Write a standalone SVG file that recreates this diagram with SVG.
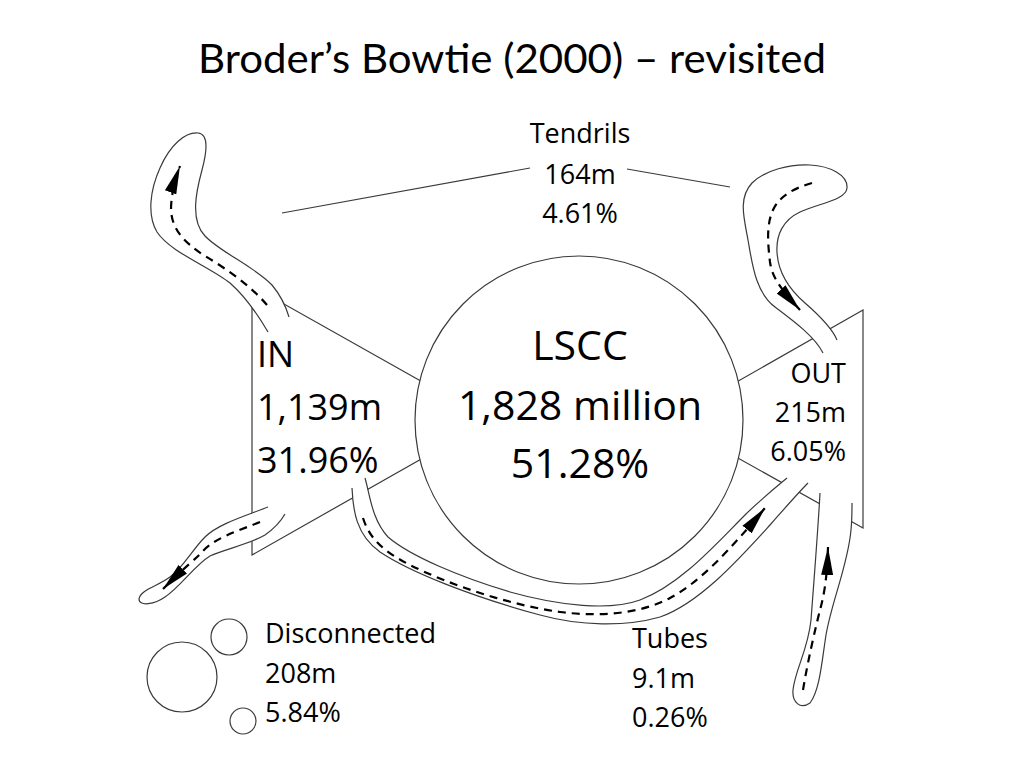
<svg xmlns="http://www.w3.org/2000/svg" width="1024" height="768" viewBox="0 0 1024 768">
<style>
.bg{fill:#ffffff}
.shape{fill:#ffffff;stroke:#3a3a3a;stroke-width:1.2}
.edge{fill:none;stroke:#3a3a3a;stroke-width:1.2}
.fillonly{fill:#ffffff;stroke:none}
.flow{fill:none;stroke:#000000;stroke-width:2.2;stroke-dasharray:8 6}
.lbl{font-family:"Open Sans","Noto Sans","Liberation Sans",sans-serif;fill:#000000}
.title{font-family:Lato,"Open Sans","Liberation Sans",sans-serif;font-size:40px;fill:#000000}
</style>
<defs>
<marker id="arr" markerUnits="userSpaceOnUse" markerWidth="30" markerHeight="14" refX="28" refY="6" orient="auto" viewBox="0 0 30 12">
<path d="M0,0 L28,6 L0,12 Z" fill="#000000"/>
</marker>
</defs>
<rect class="bg" x="0" y="0" width="1024" height="768"/>
<text class="title" x="198" y="73" textLength="628" lengthAdjust="spacingAndGlyphs">Broder’s Bowtie (2000) – revisited</text>

<g id="in">
<polygon class="shape" points="252,286 490,420 252,555"/>
</g>
<g id="out">
<polygon class="shape" points="863,310 670,420 863,528"/>
</g>
<g id="lscc">
<circle class="shape" cx="579" cy="420" r="164"/>
<text class="lbl" x="580" y="360" font-size="41" text-anchor="middle">LSCC</text>
<text class="lbl" x="580" y="420" font-size="41" text-anchor="middle">1,828 million</text>
<text class="lbl" x="580" y="478" font-size="41" text-anchor="middle">51.28%</text>
</g>

<g id="connectors">
<!-- top-left tendril (IN) -->
<g id="tendril-in-top">
<path class="fillonly" d="M268,332 C258,315 247,298 230,283 C210,267 170,252 157,232 C147,215 150,190 160,168 C170,145 185,132 198,133 C210,134 206,155 202,170 C196,192 190,220 205,236 C220,252 255,267 272,285 C282,297 286,307 289,317 Z"/>
<path class="edge" d="M268,332 C258,315 247,298 230,283 C210,267 170,252 157,232 C147,215 150,190 160,168 C170,145 185,132 198,133 C210,134 206,155 202,170 C196,192 190,220 205,236 C220,252 255,267 272,285 C282,297 286,307 289,317"/>
<path class="flow" marker-end="url(#arr)" d="M267,305 C250,285 225,268 205,256 C185,243 172,230 171,210 C171,195 175,180 180,166"/>
</g>
<!-- bottom-left tendril (IN) -->
<g id="tendril-in-bottom">
<path class="fillonly" d="M268,507 C245,516 218,524 205,537 C192,550 183,568 170,577 C158,586 140,590 139,599 C139,607 155,604 165,597 C180,587 195,565 210,556 C225,549 250,544 265,535 C275,528 281,521 285,514 Z"/>
<path class="edge" d="M268,507 C245,516 218,524 205,537 C192,550 183,568 170,577 C158,586 140,590 139,599 C139,607 155,604 165,597 C180,587 195,565 210,556 C225,549 250,544 265,535 C275,528 281,521 285,514"/>
<path class="flow" marker-end="url(#arr)" d="M260,522 C238,531 214,538 202,552 C195,560 190,562 163,589"/>
</g>
<!-- top-right tendril (OUT) -->
<g id="tendril-out-top">
<path class="fillonly" d="M823,353 C815,337 795,322 775,307 C755,292 752,262 748,240 C744,218 738,198 752,183 C765,170 790,164 810,165 C830,166 848,175 847,188 C846,200 820,203 800,212 C783,220 776,235 777,252 C778,272 790,290 805,303 C820,316 832,328 837,340 Z"/>
<path class="edge" d="M823,353 C815,337 795,322 775,307 C755,292 752,262 748,240 C744,218 738,198 752,183 C765,170 790,164 810,165 C830,166 848,175 847,188 C846,200 820,203 800,212 C783,220 776,235 777,252 C778,272 790,290 805,303 C820,316 832,328 837,340"/>
<path class="flow" marker-end="url(#arr)" d="M812,183 C795,188 780,195 773,210 C766,225 768,245 770,262 C772,276 778,286 800,310"/>
</g>
<!-- tube -->
<g id="tube">
<path class="fillonly" d="M352,488 C353,510 356,535 380,552 C410,572 470,596 540,615 C580,626 625,627 660,617 C700,603 740,558 770,525 C785,508 798,493 808,483 L787,478 C775,488 760,500 745,515 C715,545 680,585 640,600 C610,611 560,606 510,592 C460,577 410,556 388,537 C372,520 370,495 365,478 Z"/>
<path class="edge" d="M352,488 C353,510 356,535 380,552 C410,572 470,596 540,615 C580,626 625,627 660,617 C700,603 740,558 770,525 C785,508 798,493 808,483"/>
<path class="edge" d="M365,478 C370,495 372,520 388,537 C410,556 460,577 510,592 C560,606 610,611 640,600 C680,585 715,545 745,515 C760,500 775,488 787,478"/>
<path class="flow" marker-end="url(#arr)" d="M363,518 C370,540 385,552 410,565 C450,585 510,605 560,612 C600,617 640,614 670,598 C700,582 730,550 765,508"/>
</g>
<!-- bottom-right tendril (OUT) -->
<g id="tendril-out-bottom">
<path class="fillonly" d="M820,493 C818,530 814,580 811,620 C808,650 795,670 793,690 C792,702 800,710 810,703 C820,690 822,660 826,635 C832,600 848,565 851,530 C852,520 852,510 852,503 Z"/>
<path class="edge" d="M820,493 C818,530 814,580 811,620 C808,650 795,670 793,690 C792,702 800,710 810,703 C820,690 822,660 826,635 C832,600 848,565 851,530 C852,520 852,510 852,503"/>
<path class="flow" marker-end="url(#arr)" d="M803,690 C808,660 815,630 820,610 C824,595 827,580 828,547"/>
</g>
<!-- tendrils label leaders -->
<line class="edge" x1="282" y1="213" x2="530" y2="168"/>
<line class="edge" x1="627" y1="169" x2="730" y2="187"/>
</g>

<g id="in-label">
<text class="lbl" x="257" y="367" font-size="36">IN</text>
<text class="lbl" x="257" y="420" font-size="36">1,139m</text>
<text class="lbl" x="257" y="473" font-size="36">31.96%</text>
</g>
<g id="out-label">
<text class="lbl" x="846" y="383" font-size="27" text-anchor="end">OUT</text>
<text class="lbl" x="846" y="422" font-size="27" text-anchor="end">215m</text>
<text class="lbl" x="846" y="461" font-size="27" text-anchor="end">6.05%</text>
</g>
<g id="tendrils">
<text class="lbl" x="580" y="143" font-size="27" text-anchor="middle">Tendrils</text>
<text class="lbl" x="580" y="184" font-size="27" text-anchor="middle">164m</text>
<text class="lbl" x="580" y="223" font-size="27" text-anchor="middle">4.61%</text>
</g>
<g id="disconnected">
<circle class="shape" cx="182" cy="677" r="35"/>
<circle class="shape" cx="229" cy="637" r="18"/>
<circle class="shape" cx="243" cy="721" r="13"/>
<text class="lbl" x="265" y="643" font-size="27">Disconnected</text>
<text class="lbl" x="265" y="683" font-size="27">208m</text>
<text class="lbl" x="265" y="722" font-size="27">5.84%</text>
</g>
<g id="tubes">
<text class="lbl" x="632" y="648" font-size="27">Tubes</text>
<text class="lbl" x="632" y="688" font-size="27">9.1m</text>
<text class="lbl" x="632" y="727" font-size="27">0.26%</text>
</g>
</svg>
